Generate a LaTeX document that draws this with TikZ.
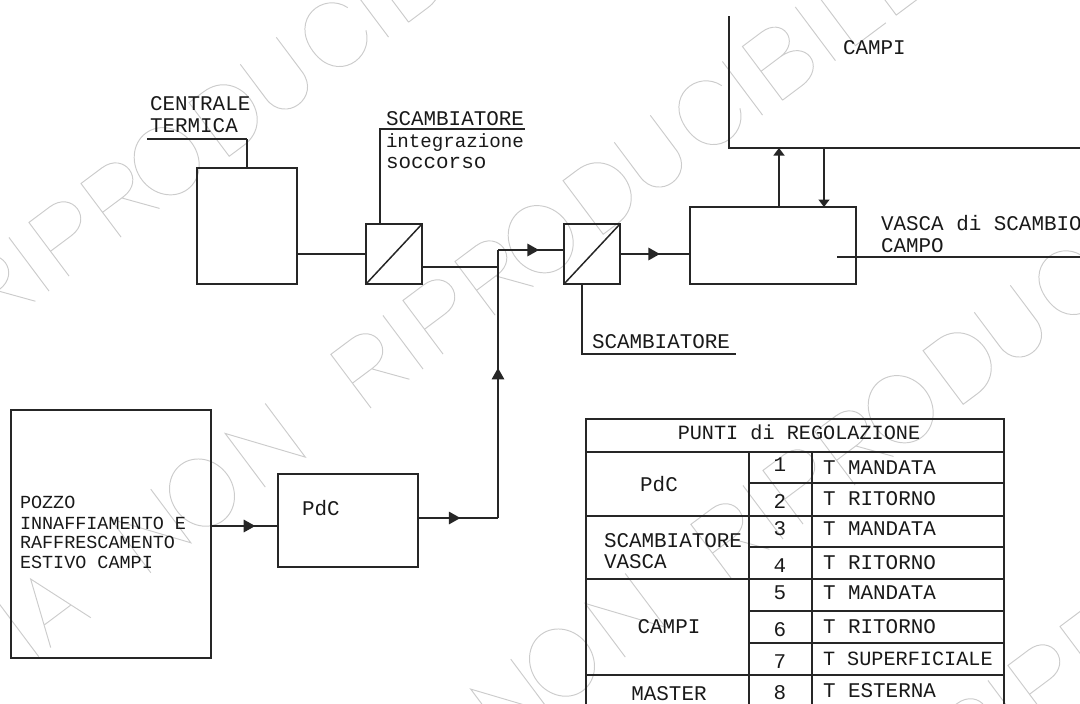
\documentclass[tikz,border=0pt]{standalone}
\usepackage{fontspec}
\setmainfont{Liberation Mono}
\usetikzlibrary{arrows.meta,positioning,calc,decorations.markings}
% tratti delle lettere di sfondo
\newcommand{\wmI}{(0,0) -- (0,67)}
\newcommand{\wmL}{(0,67) -- (0,0) -- (38,0)}
\newcommand{\wmE}{(42,67) -- (0,67) -- (0,0) -- (44,0) (0,35) -- (38,35)}
\newcommand{\wmN}{(0,0) -- (0,67) -- (50,0) -- (50,67)}
\newcommand{\wmA}{(0,0) -- (25,67) -- (50,0) (9,22) -- (41,22)}
\newcommand{\wmP}{(0,0) -- (0,67) -- (26,67) .. controls (54,67) and (54,31) .. (26,31) -- (0,31)}
\newcommand{\wmR}{\wmP (24,31) -- (48,0)}
\newcommand{\wmD}{(0,0) -- (0,67) -- (18,67) .. controls (62,67) and (62,0) .. (18,0) -- cycle}
\newcommand{\wmO}{(31,33.5) ellipse [x radius=31, y radius=35]}
\newcommand{\wmU}{(0,67) -- (0,24) .. controls (0,-8) and (45,-8) .. (45,24) -- (45,67)}
\newcommand{\wmC}{(54,48) .. controls (44,76) and (0,74) .. (0,33.5) .. controls (0,-6) and (44,-9) .. (55,19)}
\newcommand{\wmB}{(0,0) -- (0,67) -- (24,67) .. controls (50,67) and (50,36) .. (24,36) -- (0,36) (24,36) .. controls (56,36) and (56,0) .. (24,0) -- (0,0)}
\newcommand{\wmrow}[2]{%
  \begin{scope}[shift={(#1,#2)}, rotate=36.8, y=0.02cm, line width=0.55pt, black!20]
    \foreach \g/\s in {\wmI/-415, \wmA/-400, \wmN/-275, \wmO/-217, \wmN/-132,
      \wmR/0, \wmI/65, \wmP/90, \wmR/155, \wmO/206, \wmD/290, \wmU/354, \wmC/420,
      \wmI/489, \wmB/514, \wmI/580, \wmL/605, \wmE/656} {
      \draw[shift={(\s,0)}] \g;
    }
  \end{scope}}

\begin{document}
\begin{tikzpicture}[
  x=0.02cm, y=-0.02cm,
  font=\fontsize{11.9}{14}\selectfont,
  ln/.style={line width=0.85pt, black!85},
  box/.style={draw, line width=0.85pt, black!85, inner sep=0pt, outer sep=0pt},
  hx/.style={box, minimum width=1.12cm, minimum height=1.2cm},
  lab/.style={anchor=base west, inner sep=0pt, outer sep=0pt, text=black!90},
  labs/.style={lab, font=\fontsize{10.5}{13}\selectfont},
  cen/.style={anchor=base, inner sep=0pt, outer sep=0pt, text=black!90},
  flow/.style={ln, postaction={decorate}, decoration={markings,
    mark=at position #1 with {\arrow{Triangle[length=0.23cm, width=0.25cm]}}}},
  tip/.style={ln, -{Triangle[length=0.15cm, width=0.22cm]}},
]
  \useasboundingbox (0,0) rectangle (1080,704);

  % sfondo
  \begin{scope}
    \clip (0,0) rectangle (1080,704);
    \wmrow{-3}{330}
    \wmrow{371}{408}
    \wmrow{731}{578}
    \wmrow{976}{773}
  \end{scope}

  % blocchi
  \node[box, minimum width=2cm, minimum height=2.32cm] (ct) at (247,226) {};
  \node[hx] (hxa) at (394,254) {};
  \node[hx] (hxb) at (592,254) {};
  \node[box, minimum width=3.32cm, minimum height=1.54cm] (vs) at (773,245.5) {};
  \node[box, minimum width=4cm, minimum height=4.96cm] (pz) at (111,534) {};
  \node[box, minimum width=2.8cm, minimum height=1.86cm] (pc) at (348,520.5) {};

  \draw[ln] (hxa.south west) -- (hxa.north east);
  \draw[ln] (hxb.south west) -- (hxb.north east);

  \coordinate (ctl) at (147,139);
  \coordinate (hxal) at (525,129);
  \coordinate (hxbl) at (736,354);
  \coordinate (jn) at (498,267);
  \coordinate (bd) at (498,250);
  \coordinate (cr) at (498,518);
  \coordinate (cma) at (729,16);
  \coordinate (cmb) at (729,148);
  \coordinate (cmc) at (1080,148);
  \coordinate (ve) at (1080,257);

  % collegamenti
  \draw[ln] (ct.north |- ctl) -- (ct.north);
  \draw[ln] (ctl) -- (ct.north |- ctl);
  \draw[ln] (hxa.north west) ++(14,0) |- (hxal);
  \draw[ln] (hxb.south west) ++(18,0) |- (hxbl);
  \draw[ln] (ct.east |- hxa.west) -- (hxa.west);
  \draw[ln] (hxa.east |- jn) -- (jn);
  \draw[flow=0.62] (bd) -- (hxb.west |- bd);
  \draw[flow=0.57] (hxb.east) -- (vs.west |- hxb.east);
  \draw[flow=0.66] (pz.east |- 0,526) -- (pc.west |- 0,526);
  \draw[flow=0.53] (pc.east |- cr) -- (cr);
  \draw[flow=0.56] (cr) -- (bd);
  \draw[ln] (cma) -- (cmb) -- (cmc);
  \draw[tip] (vs.north -| 779,0) -- (cmb -| 779,0);
  \draw[tip] (cmb -| 824,0) -- (vs.north -| 824,0);
  \draw[ln] (837,257) -- (ve);

  % testi
  \node[lab] (tcta) at (150,110) {CENTRALE};
  \node[lab] (tctb) at (150,132) {TERMICA};
  \node[lab] (thxa) at (386,125) {SCAMBIATORE};
  \node[lab, font=\fontsize{10.9}{13}\selectfont] (thxb) at (386,147) {integrazione};
  \node[lab] (thxc) at (386,168) {soccorso};
  \node[lab] (tcm) at (843,54) {CAMPI};
  \node[lab] (tvsa) at (881,230) {VASCA di SCAMBIO};
  \node[lab] (tvsb) at (881,252) {CAMPO};
  \node[lab] (thxd) at (592,348) {SCAMBIATORE};
  \node[lab] (tpc) at (302,515) {PdC};
  \node[labs] (tpza) at (20,508) {POZZO};
  \node[labs] (tpzb) at (20,529) {INNAFFIAMENTO E};
  \node[labs] (tpzc) at (20,548) {RAFFRESCAMENTO};
  \node[labs] (tpzd) at (20,568) {ESTIVO CAMPI};

  % tabella
  \draw[ln] (586,704) |- (1004,419) -- (1004,704);
  \draw[ln] (749,452) -- (749,704);
  \draw[ln] (812,452) -- (812,704);
  \foreach \y in {452,516,579,675} {
    \draw[ln] (586,\y) -- (1004,\y);
  }
  \foreach \y in {483,547,611,643} {
    \draw[ln] (749,\y) -- (1004,\y);
  }
  \node[cen, font=\fontsize{11.5}{14}\selectfont] (ttit) at (799,439) {PUNTI di REGOLAZIONE};
  \node[cen] (tpdc) at (659,491) {PdC};
  \node[lab] (tsca) at (604,547) {SCAMBIATORE};
  \node[lab] (tscb) at (604,568) {VASCA};
  \node[cen] (tcam) at (669,633) {CAMPI};
  \node[cen] (tmas) at (669,700) {MASTER};
  \foreach \n/\yn/\yt/\s in {1/471/474/MANDATA, 2/508/505/RITORNO, 3/535/535/MANDATA,
    4/572/569/RITORNO, 5/599/599/MANDATA, 6/636/633/RITORNO, 8/699/697/ESTERNA} {
    \node[cen] (n\n) at (780,\yn) {\n};
    \node[lab] (t\n) at (823,\yt) {T \s};
  }
  \node[cen] (n7) at (780,668) {7};
  \node[lab, font=\fontsize{11.5}{14}\selectfont] (t7) at (823,665) {T SUPERFICIALE};
\end{tikzpicture}
\end{document}
